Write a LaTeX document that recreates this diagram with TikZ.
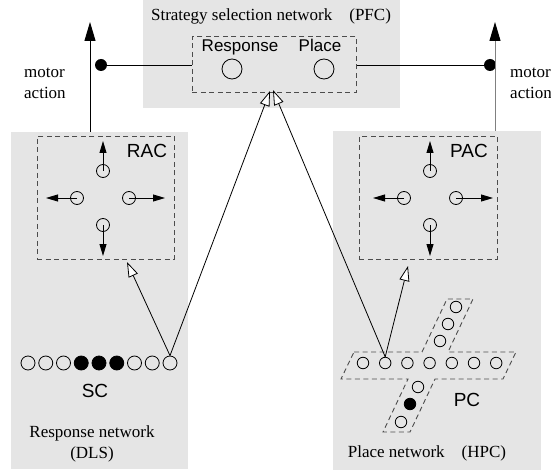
\documentclass[tikz,border=0pt]{standalone}
\usepackage{fontspec}
\setmainfont{Liberation Serif}
\setsansfont{Liberation Sans}
\usetikzlibrary{arrows.meta}
\definecolor{bg}{HTML}{E5E5E5}
\tikzset{
  region/.style={fill=bg, draw=none, inner sep=0pt, anchor=north west},
  dbox/.style={draw=black!70, dash pattern=on 5pt off 3.5pt, line width=0.9pt, fill=none, inner sep=0pt},
  neu/.style={circle, draw, line width=0.8pt, inner sep=0pt, minimum size=13pt},
  fired/.style={fill=black},
  dot/.style={circle, fill=black, inner sep=0pt, minimum size=12pt},
  lbl/.style={font=\sffamily\fontsize{19}{22}\selectfont, inner sep=0pt, anchor=base},
  slbl/.style={font=\sffamily\fontsize{17}{20}\selectfont, inner sep=0pt, anchor=base},
  serif/.style={font=\fontsize{17}{21}\selectfont, inner sep=0pt},
  conn/.style={line width=0.9pt},
  outarr/.style={-{Triangle[length=19pt,width=11pt,color=black]}, line width=1pt},
  dirarr/.style={-{Triangle[length=12pt,width=7pt]}, line width=0.9pt},
  inarr/.style={-{Triangle[fill=white,length=15pt,width=10pt]}, line width=0.8pt},
}
\begin{document}
\begin{tikzpicture}[x=1pt,y=-1pt]
\useasboundingbox (0,0) rectangle (551,473);
% shaded regions
\node[region, minimum width=257pt, minimum height=108pt] (pfc) at (143,0) {};
\node[region, minimum width=177pt, minimum height=337pt] (dls) at (11,132) {};
\node[region, minimum width=208pt, minimum height=339pt] (hpc) at (333,131) {};
% PFC
\node[serif, anchor=base] (title) at (271,21) {Strategy selection network\quad(PFC)};
\node[dbox, anchor=north west, minimum width=164pt, minimum height=56pt] (selbox) at (192,36) {};
\node[slbl] (resptxt) at (240,52) {Response};
\node[slbl] (placetxt) at (320,52) {Place};
\node[neu, minimum size=20pt] (respn) at (232,69) {};
\node[neu, minimum size=20pt] (placen) at (324,69) {};
\node[dot] (ldot) at (101,65) {};
\node[dot] (rdot) at (490,65) {};
\draw[conn] (selbox.west |- ldot) -- (ldot);
\draw[conn] (selbox.east |- rdot) -- (rdot);
% motor outputs
\coordinate (ltop) at (90,22);
\coordinate (rtop) at (495,22);
\draw[outarr] (ltop |- dls.north) -- (ltop);
\draw[outarr, draw=black!50] (rtop |- hpc.north) -- (rtop);
\node[serif, anchor=base west] (lmot1) at (24,78) {motor};
\node[serif, anchor=base west] (lmot2) at (24,99) {action};
\node[serif, anchor=base west] (rmot1) at (510,78) {motor};
\node[serif, anchor=base west] (rmot2) at (510,99) {action};
% RAC
\node[dbox, anchor=north west, minimum width=137pt, minimum height=123pt] (rac) at (37,136) {};
\node[lbl] (ractxt) at (147,158) {RAC};
\coordinate (racUe) at (103,141);
\coordinate (racDe) at (103,256);
\coordinate (racLe) at (46,198);
\coordinate (racRe) at (165,198);
\draw[dirarr] (103,171) -- (racUe);
\draw[dirarr] (103,225) -- (racDe);
\draw[dirarr] (77,198) -- (racLe);
\draw[dirarr] (129,198) -- (racRe);
\node[neu] (racU) at (103,171) {};
\node[neu] (racD) at (103,225) {};
\node[neu] (racL) at (77,198) {};
\node[neu] (racR) at (129,198) {};
% PAC
\node[dbox, anchor=north west, minimum width=138pt, minimum height=123pt] (pac) at (359,136) {};
\node[lbl] (pactxt) at (469,158) {PAC};
\coordinate (pacUe) at (430,141);
\coordinate (pacDe) at (430,256);
\coordinate (pacLe) at (373,198);
\coordinate (pacRe) at (493,198);
\draw[dirarr] (430,171) -- (pacUe);
\draw[dirarr] (430,225) -- (pacDe);
\draw[dirarr] (404,198) -- (pacLe);
\draw[dirarr] (456,198) -- (pacRe);
\node[neu] (pacU) at (430,171) {};
\node[neu] (pacD) at (430,225) {};
\node[neu] (pacL) at (404,198) {};
\node[neu] (pacR) at (456,198) {};
% SC
\foreach \i in {1,...,9} {
  \node[neu, minimum size=14pt] (sc\i) at ({28+(\i-1)*17.75},363) {};
}
\foreach \i in {4,5,6} { \fill (sc\i) circle (7pt); }
\node[lbl] (sctxt) at (95,397) {SC};
\node[serif, anchor=base] (dlstxt1) at (92,437) {Response network};
\node[serif, anchor=base] (dlstxt2) at (92,458) {(DLS)};
% PC
\draw[dbox] (354,352) -- (422,352) -- (447,299) -- (473,299) -- (448,352) -- (516,352)
  -- (503,379) -- (435,379) -- (410,432) -- (383,432) -- (408,379) -- (341,379) -- cycle;
\foreach \i in {1,...,7} {
  \node[neu, minimum size=11.5pt] (pc\i) at ({363+(\i-1)*22.2},363) {};
}
\node[neu, minimum size=11.5pt] (pcu1) at (456,307) {};
\node[neu, minimum size=11.5pt] (pcu2) at (448,324) {};
\node[neu, minimum size=11.5pt] (pcu3) at (440,341) {};
\node[neu, minimum size=11.5pt] (pcl1) at (418,387) {};
\node[neu, fired, minimum size=11.5pt] (pcl2) at (410,404) {};
\node[neu, minimum size=11.5pt] (pcl3) at (401,422) {};
\node[lbl] (pctxt) at (467,406) {PC};
\node[serif, anchor=base] (hpctxt) at (427,457) {Place network\quad(HPC)};
% feed-forward projections
\coordinate (racin) at (127,262);
\coordinate (pacin) at (408,266);
\coordinate (pfcinL) at (270,91);
\coordinate (pfcinR) at (273,90);
\draw[inarr] (sc9.north) -- (racin);
\draw[inarr] (sc9.north) -- (pfcinL);
\draw[inarr] (pc2.north) -- (pacin);
\draw[inarr] (pc2.north) -- (pfcinR);
\end{tikzpicture}
\end{document}
